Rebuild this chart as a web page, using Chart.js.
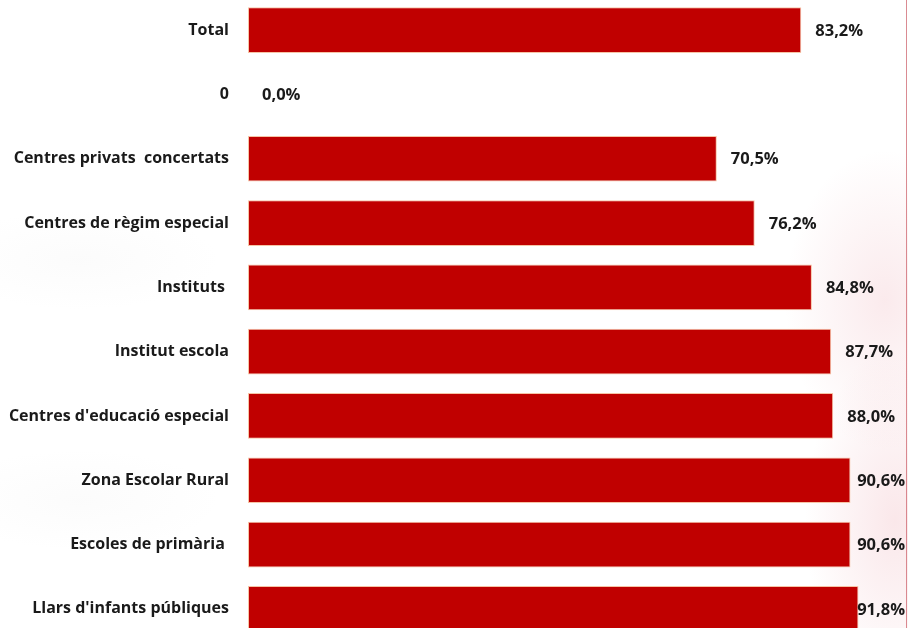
<!DOCTYPE html>
<html>
<head>
<meta charset="utf-8">
<script src="https://cdn.jsdelivr.net/npm/chart.js@4"></script>
<style>
  html, body { margin:0; padding:0; width:908px; height:628px; overflow:hidden; }
  body {
    background:
      radial-gradient(ellipse 100px 150px at 885px 300px, rgba(235,160,170,0.22), rgba(255,255,255,0) 100%),
      radial-gradient(ellipse 90px 170px at 895px 520px, rgba(235,160,170,0.25), rgba(255,255,255,0) 100%),
      radial-gradient(ellipse 140px 50px at 80px 260px, rgba(210,210,210,0.08), rgba(255,255,255,0) 100%),
      radial-gradient(ellipse 140px 50px at 80px 500px, rgba(210,210,210,0.08), rgba(255,255,255,0) 100%),
      #ffffff;
    position:relative;
  }
  #edge { position:absolute; left:906px; top:0; width:1px; height:628px; background:rgba(205,100,110,0.75); }
  #wrap { position:absolute; left:0; top:-2px; width:913px; height:643px; }
</style>
</head>
<body>
<div id="wrap"><canvas id="c" width="913" height="643"></canvas></div>
<div id="edge"></div>
<script>
const categories = [
  "Total",
  "0",
  "Centres privats  concertats",
  "Centres de règim especial",
  "Instituts ",
  "Institut escola",
  "Centres d'educació especial",
  "Zona Escolar Rural",
  "Escoles de primària ",
  "Llars d'infants públiques"
];
const values = [83.2, 0.0, 70.5, 76.2, 84.8, 87.7, 88.0, 90.6, 90.6, 91.8];
const axisMax = 100;

const FONT = "'Open Sans', sans-serif";

const valueLabels = {
  id: 'valueLabels',
  afterDatasetsDraw(chart) {
    const ctx = chart.ctx;
    const meta = chart.getDatasetMeta(0);
    ctx.save();
    ctx.font = "bold 16.5px " + FONT;
    ctx.fillStyle = "#1a1a1a";
    ctx.textAlign = "left";
    ctx.textBaseline = "middle";
    meta.data.forEach((bar, i) => {
      const txt = values[i].toFixed(1).replace('.', ',') + '%';
      const w = ctx.measureText(txt).width;
      const x = Math.min(bar.x + 14, 905 - w);
      ctx.fillText(txt, x, bar.y + 1);
    });
    ctx.restore();
  }
};

new Chart(document.getElementById('c'), {
  type: 'bar',
  data: {
    labels: categories,
    datasets: [{
      data: values,
      backgroundColor: '#C00000',
      borderColor: '#F6C4A6',
      borderWidth: 1,
      borderSkipped: false,
      categoryPercentage: 1.0,
      barPercentage: 0.71
    }]
  },
  options: {
    indexAxis: 'y',
    responsive: false,
    animation: false,
    layout: { padding: 0 },
    plugins: { legend: { display: false }, tooltip: { enabled: false } },
    scales: {
      x: {
        display: false,
        min: 0,
        max: axisMax
      },
      y: {
        grid: { display: false, drawTicks: false },
        border: { display: false },
        ticks: {
          padding: 19,
          color: '#1a1a1a',
          font: { family: FONT, size: 16, weight: 'bold' },
          autoSkip: false
        },
        afterFit(scale) {
          scale.width = 248;
          scale.paddingTop = 0;
          scale.paddingBottom = 0;
        }
      }
    }
  },
  plugins: [valueLabels]
});
</script>
</body>
</html>
